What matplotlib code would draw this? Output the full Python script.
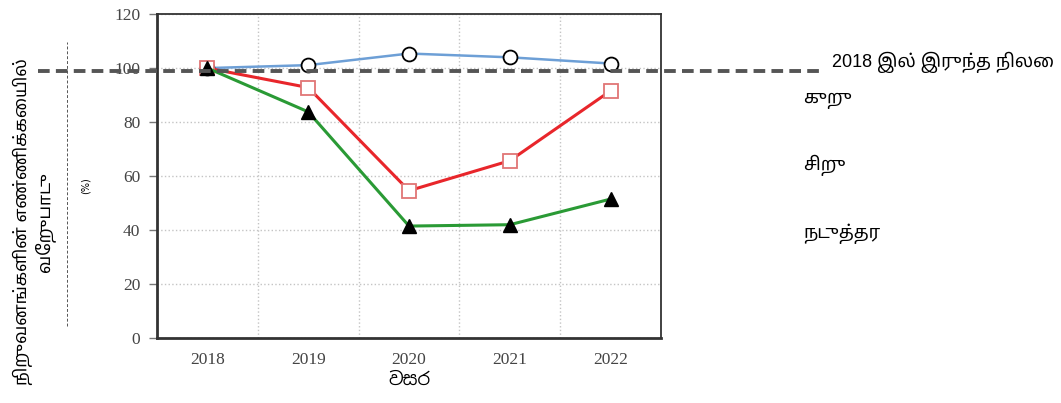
import numpy as np
import matplotlib
matplotlib.use("Agg")
import matplotlib.pyplot as plt
from matplotlib.ticker import MultipleLocator

# ###############################################
years = [2018, 2019, 2020, 2021, 2022]
micro = [100, 101.1, 105.4, 104.0, 101.7]
small = [100, 92.8, 54.6, 65.7, 91.6]
medium = [100, 83.8, 41.5, 42.0, 51.5]
baseline = 99
series_names = ["குறு", "சிறு", "நடுத்தர"]
baseline_name = "2018 இல் இருந்த நிலை"
ylabel = "நிறுவனங்களின் எண்ணிக்கையில்\nவேறுபாடு"
xlabel = "වසර"
# ###############################################

tamil = ['Liberation Sans', 'Noto Sans Tamil', 'DejaVu Sans']
plt.rcParams['font.family'] = ['DejaVu Sans']

fig = plt.figure(figsize=(10.61, 4.03), dpi=100)
ax = fig.add_axes([0.148, 0.161, 0.475, 0.804])

ax.plot(years, micro, color="#6d9fd6", lw=1.8, marker="o", ms=10,
        mfc="white", mec="black", mew=1.3, zorder=3)
ax.plot(years, small, color="#e8262b", lw=2.2, marker="s", ms=10,
        mfc="white", mec="#e07575", mew=1.3, zorder=3)
ax.plot(years, medium, color="#2a9a35", lw=2.2, marker="^", ms=10,
        mfc="black", mec="black", zorder=4)

# reference line drawn across and past the axes
ax.plot([2016.32, 2024.08], [baseline, baseline], ls=(0, (3, 1.6)), lw=2.8,
        color="#555555", clip_on=False, zorder=5)

ax.set_xlim(2017.5, 2022.5)
ax.set_ylim(0, 120)
ax.set_xticks(years)
ax.yaxis.set_major_locator(MultipleLocator(20))
ax.xaxis.set_minor_locator(MultipleLocator(1, offset=0.5))
ax.grid(which="minor", axis="x", ls=":", color="#c4c4c4", lw=1)
ax.grid(which="major", axis="y", ls=":", color="#c4c4c4", lw=1)
ax.tick_params(axis="x", which="both", length=0, pad=10)
ax.tick_params(axis="y", length=6, width=1, color="#777777", pad=6)
for lab in ax.get_xticklabels() + ax.get_yticklabels():
    lab.set_family("Liberation Serif")
    lab.set_fontsize(12.5)
    lab.set_color("#444444")
for s in ax.spines.values():
    s.set_color("#333333")
    s.set_linewidth(1.3)
ax.spines["left"].set_linewidth(2)
ax.spines["bottom"].set_linewidth(2)

ax.set_xlabel(xlabel, fontsize=13, fontweight="bold", labelpad=2,
              family=['Noto Sans Sinhala', 'DejaVu Sans'])

# labels on the right
fig.text(0.784, 0.846, baseline_name, fontsize=13, va="center", family=tamil)
for name, y in zip(series_names, [0.751, 0.590, 0.421]):
    fig.text(0.757, y, name, fontsize=13, va="center", family=tamil)

# y label block on the left
fig.text(0.032, 0.45, ylabel, rotation=90, fontsize=12.5, fontweight="bold",
         ha="center", va="center", multialignment="center", family=tamil,
         linespacing=1.1)
fig.text(0.081, 0.54, "(%)", rotation=90, fontsize=7, ha="center", va="center")
fig.add_artist(plt.Line2D([0.063, 0.063], [0.19, 0.895], ls=(0, (3, 2)),
                          lw=0.7, color="#555555"))

plt.savefig("out.png", dpi=100)
